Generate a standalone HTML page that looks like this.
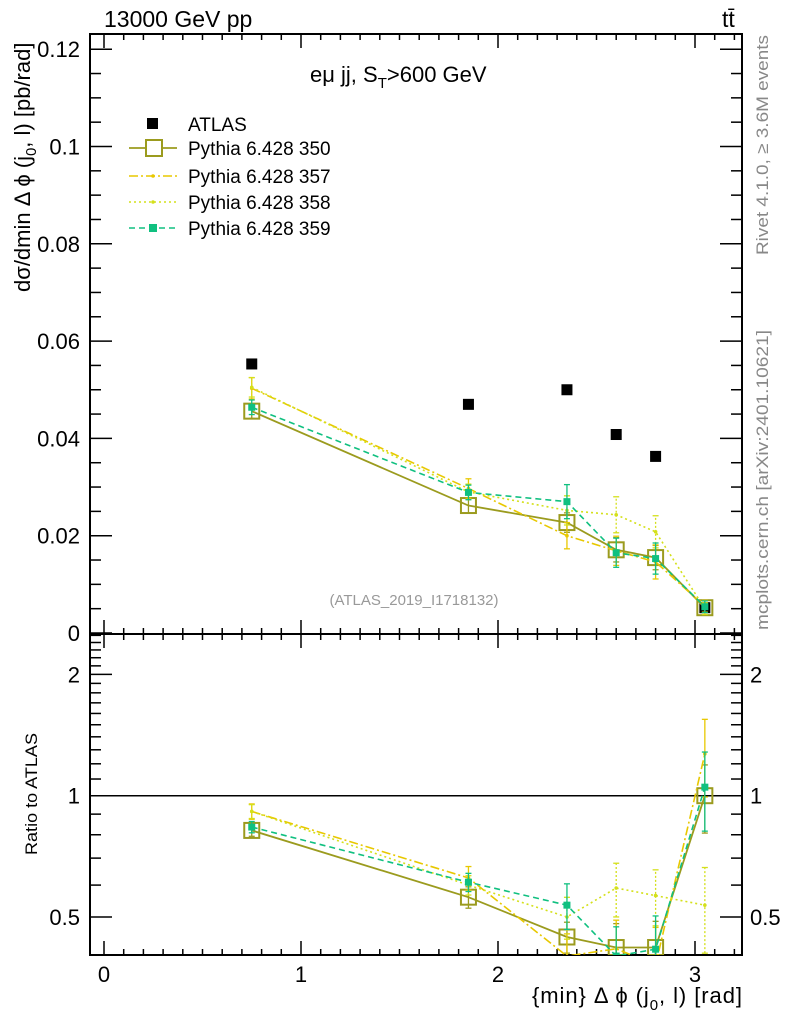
<!DOCTYPE html>
<html><head><meta charset="utf-8"><style>
html,body{margin:0;padding:0;background:#fff;}
svg{display:block;font-family:"Liberation Sans",Arial,sans-serif;}
</style></head><body>
<svg id="chart" width="786" height="1024" viewBox="0 0 786 1024" xmlns="http://www.w3.org/2000/svg"></svg>
<script>
const xVals=[0.75,1.85,2.35,2.6,2.8,3.05];
const atlas=[0.0553,0.0470,0.0500,0.0408,0.0363,0.0052];
const p350=[0.0456,0.0262,0.0227,0.0171,0.0155,0.0052];
const p357=[0.0503,0.0297,0.0200,0.0169,0.0146,0.0055];
const p358=[0.0505,0.0290,0.0252,0.0243,0.0208,0.0050];
const p359=[0.0464,0.0289,0.0270,0.0165,0.0153,0.0054];
const e350=[0.0015,0.0016,0.0020,0.0025,0.0025,0.0010];
const e357=[0.0022,0.0020,0.0027,0.0030,0.0035,0.0012];
const e358=[0.0020,0.0016,0.0030,0.0037,0.0033,0.0012];
const e359=[0.0015,0.0015,0.0035,0.0030,0.0032,0.0012];
const r350=[0.82,0.56,0.446,0.42,0.42,1.0];
const r357=[0.914,0.625,0.40,0.417,0.38,1.27];
const r358=[0.914,0.60,0.50,0.59,0.565,0.535];
const r359=[0.836,0.61,0.535,0.40,0.416,1.05];
const yTicks=[0,0.02,0.04,0.06,0.08,0.1,0.12];
const yTickLabels=["0","0.02","0.04","0.06","0.08","0.1","0.12"];
const rTicks=[0.5,1,2];
const rTickLabels=["0.5","1","2"];
const xTicks=[0,1,2,3];
const xTickLabels=["0","1","2","3"];

const L=90,R=742,T=34,MB=634,RB=955;
const X0=104,XS=197;
const sx=v=>X0+v*XS;
const sy=v=>633-v*4865;
const sr=v=>795.7-121.3*Math.log2(v);
const svg=document.getElementById('chart');
const NS='http://www.w3.org/2000/svg';
function mk(tag,attrs,parent){const e=document.createElementNS(NS,tag);for(const k in attrs)e.setAttribute(k,attrs[k]);(parent||svg).appendChild(e);return e;}
function txt(s,attrs,parent){const e=mk('text',attrs,parent);e.textContent=s;return e;}

const defs=mk('defs',{});
const c1=mk('clipPath',{id:'cm'},defs);mk('rect',{x:L,y:T,width:R-L,height:MB-T},c1);
const c2=mk('clipPath',{id:'cr'},defs);mk('rect',{x:L,y:MB,width:R-L,height:RB-MB},c2);

let f=mk('rect',{x:L,y:T,width:R-L,height:MB-T,fill:'none',stroke:'#000','stroke-width':2});

f=mk('rect',{x:L,y:MB,width:R-L,height:RB-MB,fill:'none',stroke:'#000','stroke-width':2});


const gx=mk('g',{stroke:'#000','stroke-width':1.5});

for(let i=0;i<=32;i++){const v=i/10;const x=sx(v);if(x>R)break;const len=(i%10===0)?14:6;
  mk('line',{x1:x,y1:MB,x2:x,y2:MB-len},gx);mk('line',{x1:x,y1:T,x2:x,y2:T+len},gx);
  mk('line',{x1:x,y1:RB,x2:x,y2:RB-len},gx);mk('line',{x1:x,y1:MB,x2:x,y2:MB+len},gx);}
xTicks.forEach((v,i)=>{const t=txt(xTickLabels[i],{x:sx(v),y:982,'font-size':22,'text-anchor':'middle'});
  });

const gy=mk('g',{stroke:'#000','stroke-width':1.5});

for(let i=0;i<=24;i++){const v=i*0.005;const y=sy(v);const len=(i%4===0)?22:11;
  mk('line',{x1:L,y1:y,x2:L+len,y2:y},gy);mk('line',{x1:R,y1:y,x2:R-len,y2:y},gy);}
yTicks.forEach((v,i)=>{const t=txt(yTickLabels[i],{x:80,y:sy(v)+8,'font-size':22,'text-anchor':'end'});
  });

const gr=mk('g',{stroke:'#000','stroke-width':1.5});

for(let i=4;i<=25;i++){const v=i/10;const y=sr(v);if(y<MB||y>RB)continue;const major=(i===5||i===10||i===20);const len=major?22:11;
  mk('line',{x1:L,y1:y,x2:L+len,y2:y},gr);mk('line',{x1:R,y1:y,x2:R-len,y2:y},gr);}
rTicks.forEach((v,i)=>{let t=txt(rTickLabels[i],{x:80,y:sr(v)+8,'font-size':22,'text-anchor':'end'});
  
  t=txt(rTickLabels[i],{x:750,y:sr(v)+8,'font-size':22,'text-anchor':'start'});
  });
let ln=mk('line',{x1:L,y1:sr(1),x2:R,y2:sr(1),stroke:'#000','stroke-width':1.5});


const series=[
 {name:'350',vals:p350,err:e350,rat:r350,color:'#9b9b1e',dash:'',marker:'open',w:1.8},
 {name:'357',vals:p357,err:e357,rat:r357,color:'#e8c800',dash:'9,3,2,3',marker:'dot',w:1.6},
 {name:'358',vals:p358,err:e358,rat:r358,color:'#d4e01a',dash:'2,3',marker:'dot',w:1.6},
 {name:'359',vals:p359,err:e359,rat:r359,color:'#10c080',dash:'6,4',marker:'sq',w:1.6}];
function drawSeries(s,ys,errsFn,clip,tag){
  const g=mk('g',{'clip-path':'url(#'+clip+')'});
  
  const pts=xVals.map((x,i)=>sx(x)+','+ys(i)).join(' ');
  mk('polyline',{points:pts,fill:'none',stroke:s.color,'stroke-width':s.w,'stroke-dasharray':s.dash},g);
  xVals.forEach((x,i)=>{const [lo,hi]=errsFn(i);const X=sx(x);
    mk('line',{x1:X,y1:lo,x2:X,y2:hi,stroke:s.color,'stroke-width':1.3,'stroke-dasharray':s.dash==='2,3'?'2,2':''},g);
    mk('line',{x1:X-3,y1:lo,x2:X+3,y2:lo,stroke:s.color,'stroke-width':1.3},g);
    mk('line',{x1:X-3,y1:hi,x2:X+3,y2:hi,stroke:s.color,'stroke-width':1.3},g);
    const Y=ys(i);
    if(s.marker==='open')mk('rect',{x:X-7.5,y:Y-7.5,width:15,height:15,fill:'none',stroke:s.color,'stroke-width':2},g);
    else if(s.marker==='sq')mk('rect',{x:X-3.5,y:Y-3.5,width:7,height:7,fill:s.color},g);
    else mk('circle',{cx:X,cy:Y,r:1.8,fill:s.color},g);
  });
}
const ga=mk('g',{});

atlas.forEach((v,i)=>{mk('rect',{x:sx(xVals[i])-5.5,y:sy(v)-5.5,width:11,height:11,fill:'#000'},ga);});
series.forEach(s=>{
  drawSeries(s,i=>sy(s.vals[i]),i=>[sy(s.vals[i]-s.err[i]),sy(s.vals[i]+s.err[i])],'cm','main');
  drawSeries(s,i=>sr(s.rat[i]),i=>{const rel=s.err[i]/s.vals[i];return [sr(Math.max(0.3,s.rat[i]*(1-rel))),sr(s.rat[i]*(1+rel))];},'cr','ratio');
});

const lg=mk('g',{'font-size':19});

mk('rect',{x:147,y:118,width:11,height:11,fill:'#000'},lg);
txt('ATLAS',{x:188,y:131},lg);
const legY=[148,176,202,228];
series.forEach((s,i)=>{const y=legY[i];
  const e=mk('g',{},lg);
  mk('line',{x1:129,y1:y,x2:177,y2:y,stroke:s.color,'stroke-width':s.w,'stroke-dasharray':s.dash},e);
  if(s.marker==='open')mk('rect',{x:146,y:y-8,width:16,height:16,fill:'#fff',stroke:s.color,'stroke-width':2},e);
  else if(s.marker==='sq')mk('rect',{x:149,y:y-4,width:8,height:8,fill:s.color},e);
  else mk('circle',{cx:153,cy:y,r:1.8,fill:s.color},e);
  txt('Pythia 6.428 '+s.name,{x:188,y:y+7},e);});

let t=txt('13000 GeV pp',{x:104,y:27,'font-size':23});
t=txt('tt̄',{x:722,y:27,'font-size':23});
t=mk('text',{x:310,y:82,'font-size':22});t.innerHTML='eμ jj, S<tspan dy="6" font-size="15">T</tspan><tspan dy="-6">&gt;600 GeV</tspan>';

t=txt('(ATLAS_2019_I1718132)',{x:414,y:605,'font-size':15,fill:'#999','text-anchor':'middle'});
t=mk('text',{x:0,y:0,'font-size':22,transform:'translate(30,292) rotate(-90)','text-anchor':'start'});
t.innerHTML='dσ/dmin Δ ϕ (j<tspan dy="6" font-size="15">0</tspan><tspan dy="-6">, l) [pb/rad]</tspan>';

t=txt('Ratio to ATLAS',{x:0,y:0,'font-size':17,transform:'translate(37,794) rotate(-90)','text-anchor':'middle',textLength:122,lengthAdjust:'spacingAndGlyphs'});
t=mk('text',{x:742,y:1003,'font-size':22,'text-anchor':'end',textLength:210,lengthAdjust:'spacing'});
t.innerHTML='{min} Δ ϕ (j<tspan dy="7" font-size="15">0</tspan><tspan dy="-7">, l) [rad]</tspan>';

t=txt('Rivet 4.1.0, ≥ 3.6M events',{x:0,y:0,'font-size':17,fill:'#888',transform:'translate(768,145) rotate(-90)','text-anchor':'middle',textLength:220,lengthAdjust:'spacingAndGlyphs'});
t=txt('mcplots.cern.ch [arXiv:2401.10621]',{x:0,y:0,'font-size':17,fill:'#888',transform:'translate(768,480) rotate(-90)','text-anchor':'middle',textLength:300,lengthAdjust:'spacingAndGlyphs'});
</script>
</body></html>
